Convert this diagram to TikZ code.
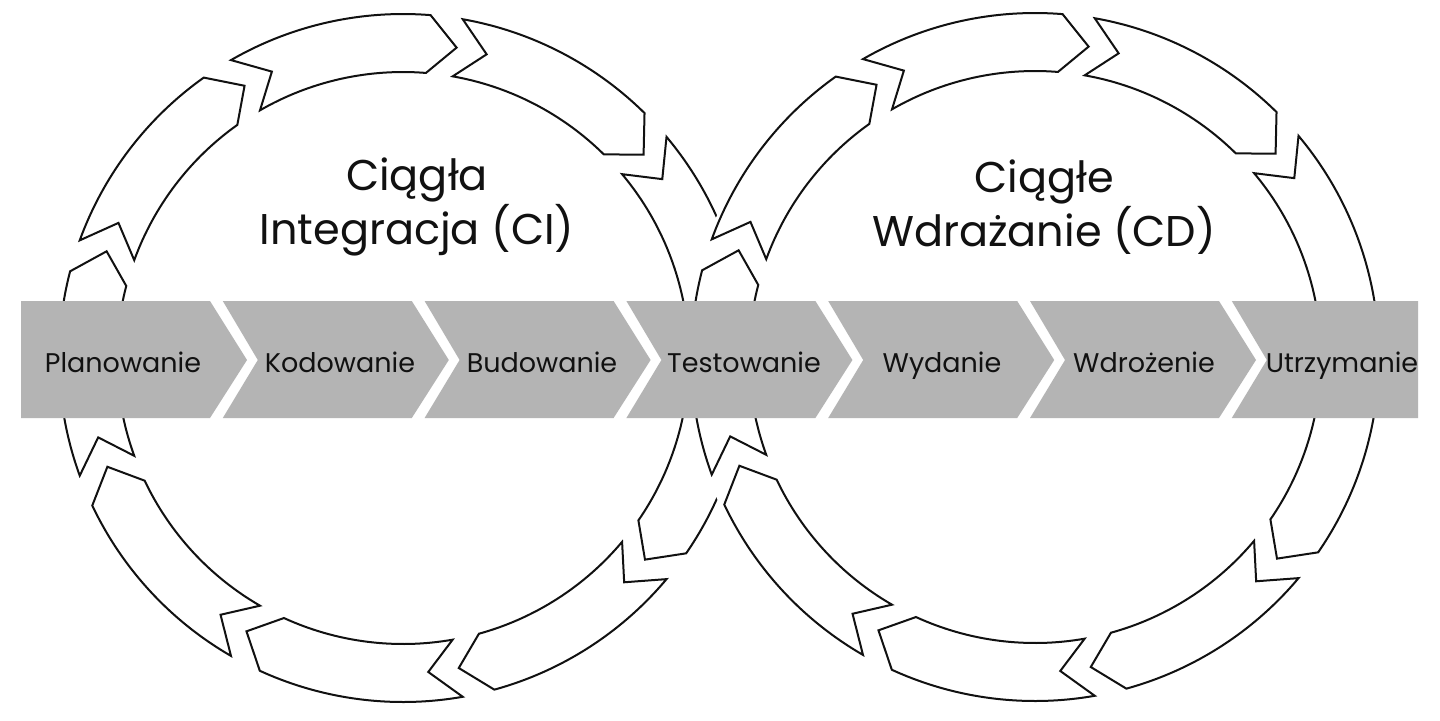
\documentclass[tikz,border=0pt]{standalone}
\usepackage{fontspec}
\setmainfont{Poppins}
\usepackage{tikz}
\usetikzlibrary{calc}
\definecolor{cdgray}{HTML}{B4B4B4}
\definecolor{cdink}{HTML}{111111}

\begin{document}
\begin{tikzpicture}[
    x=0.5pt, y=0.5pt,
    loop arrow/.style={draw=cdink, fill=white, line width=1pt, line join=miter},
    stage/.style={fill=cdgray},
    stage label/.style={font=\fontsize{13.5}{16}\selectfont, text=cdink, inner sep=0pt, anchor=base},
    loop title/.style={font=\fontsize{21.5}{25}\selectfont, text=cdink, align=center, inner sep=0pt}
]
\useasboundingbox (0,0) rectangle (1440,720);
\fill[white] (0,0) rectangle (1440,720);

\coordinate (ci) at (403,362);
\coordinate (cd) at (1035,363);

% left loop (CI)
\foreach \t in {160,120,...,-160}
  \draw[loop arrow] ($(ci)+(\t:344)$) arc[start angle=\t, end angle=\t-34.6, radius=344]
    -- ($(ci)+({\t-39.8}:315)$) -- ($(ci)+({\t-34.6}:286)$)
    arc[start angle=\t-34.6, end angle=\t, radius=286]
    -- ($(ci)+({\t-5.4}:315)$) -- cycle;

% right loop (CD) lies over the left one
\fill[white, even odd rule] (cd) circle[radius=348] (cd) circle[radius=284];
\foreach \t in {160,120,...,-160}
  \draw[loop arrow] ($(cd)+(\t:344)$) arc[start angle=\t, end angle=\t-34.6, radius=344]
    -- ($(cd)+({\t-39.8}:315)$) -- ($(cd)+({\t-34.6}:286)$)
    arc[start angle=\t-34.6, end angle=\t, radius=286]
    -- ($(cd)+({\t-5.4}:315)$) -- cycle;

% band of stages
\foreach \i in {0,...,6} {
  \pgfmathsetmacro\xs{21+201.8*\i}
  \pgfmathsetmacro\xe{\i==6 ? 1418 : \xs+189}
  \pgfmathsetmacro\dl{\i==0 ? 0 : 35}
  \pgfmathsetmacro\dr{\i==6 ? 0 : 37}
  \fill[stage] (\xs,419) -- (\xe,419) -- (\xe+\dr,360) -- (\xe,302) -- (\xs,302) -- (\xs+\dl,360) -- cycle;
}

\node[stage label] (plan) at (123,348) {Planowanie};
\node[stage label] (kod) at (340,348) {Kodowanie};
\node[stage label] (bud) at (542,348) {Budowanie};
\node[stage label] (test) at (744,348) {Testowanie};
\node[stage label] (wyd) at (942,348) {Wydanie};
\node[stage label] (wdr) at (1144,348) {Wdrożenie};
\node[stage label] (utrz) at (1342,348) {Utrzymanie};

\node[loop title] (citxt) at (417,513) {Ciągła\\Integracja (CI)};
\node[loop title] (cdtxt) at (1044,513) {Ciągłe\\Wdrażanie (CD)};
\end{tikzpicture}
\end{document}
